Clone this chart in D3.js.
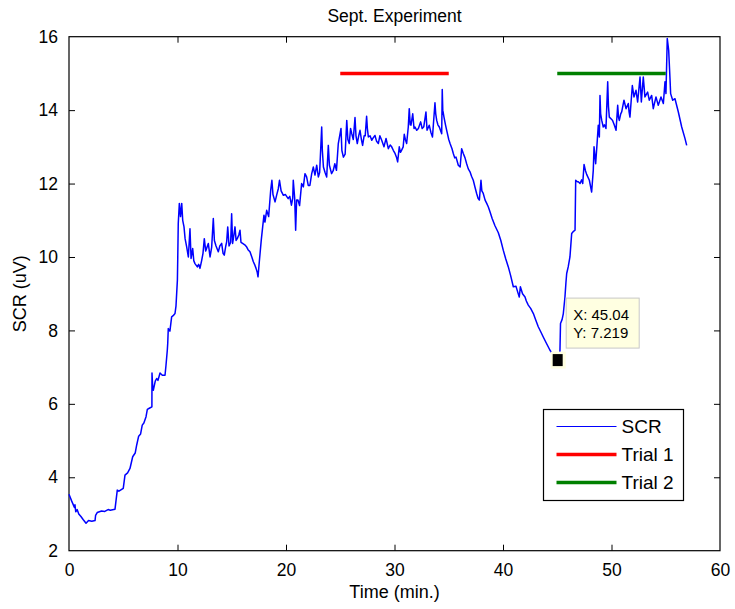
<!DOCTYPE html>
<html>
<head>
<meta charset="utf-8">
<script src="https://cdn.jsdelivr.net/npm/d3@7"></script>
<style>
  body { margin: 0; background: #fff; }
  text { font-family: 'Liberation Sans', Arial, Helvetica, sans-serif; }
</style>
</head>
<body>
<div id="chart"></div>
<script>
// data -------------------------------------------------------------
const timeMin = [
  0.0, 0.25, 0.5, 0.55, 0.62, 0.75, 0.9, 1.1, 1.3, 1.57, 1.8, 2.1, 2.4, 2.45, 2.6, 3.0, 3.3, 3.6, 3.8, 4.24,
  4.45, 4.6, 5.0, 5.16, 5.4, 5.62, 5.87, 6.1, 6.24, 6.42, 6.6, 6.75, 6.9, 7.1, 7.22, 7.4, 7.64, 7.65, 7.72, 7.77,
  7.95, 8.08, 8.2, 8.39, 8.6, 8.85, 8.94, 9.06, 9.1, 9.15, 9.3, 9.46, 9.6, 9.77, 9.86, 9.99, 10.02, 10.07, 10.17, 10.28,
  10.39, 10.48, 10.6, 10.7, 10.85, 11.0, 11.15, 11.25, 11.4, 11.5, 11.61, 11.83, 11.95, 12.07, 12.23, 12.35, 12.47, 12.6, 12.84, 13.0,
  13.15, 13.3, 13.4, 13.55, 13.76, 13.9, 14.07, 14.2, 14.31, 14.45, 14.53, 14.63, 14.75, 14.9, 14.99, 15.08, 15.2, 15.3, 15.4, 15.51,
  15.65, 15.76, 15.85, 16.0, 16.2, 16.38, 16.5, 16.68, 16.85, 16.99, 17.1, 17.24, 17.35, 17.42, 17.54, 17.72, 17.85, 17.97, 18.06, 18.22,
  18.4, 18.59, 18.7, 18.8, 18.99, 19.15, 19.29, 19.4, 19.55, 19.76, 19.95, 20.2, 20.35, 20.5, 20.62, 20.67, 20.8, 20.89, 20.98, 21.1,
  21.25, 21.44, 21.6, 21.75, 21.9, 22.05, 22.2, 22.37, 22.52, 22.67, 22.83, 22.98, 23.1, 23.29, 23.35, 23.45, 23.6, 23.75, 23.9, 24.0,
  24.2, 24.35, 24.5, 24.65, 24.82, 25.07, 25.15, 25.29, 25.45, 25.6, 25.7, 25.83, 25.95, 26.06, 26.2, 26.36, 26.45, 26.57, 26.7, 26.82,
  26.95, 27.06, 27.2, 27.3, 27.43, 27.5, 27.59, 27.75, 27.9, 28.05, 28.2, 28.35, 28.51, 28.65, 28.82, 29.03, 29.22, 29.43, 29.6, 29.74,
  29.9, 30.05, 30.2, 30.29, 30.44, 30.55, 30.66, 30.8, 30.9, 31.0, 31.12, 31.27, 31.36, 31.45, 31.52, 31.68, 31.8, 31.89, 32.05, 32.2,
  32.41, 32.55, 32.7, 32.9, 33.0, 33.2, 33.35, 33.5, 33.73, 33.8, 33.89, 34.0, 34.13, 34.35, 34.4, 34.45, 34.56, 34.7, 34.81, 35.0,
  35.12, 35.3, 35.42, 35.55, 35.67, 35.88, 36.05, 36.19, 36.34, 36.5, 36.65, 36.8, 36.96, 37.1, 37.26, 37.42, 37.57, 37.7, 37.82, 37.97,
  38.05, 38.18, 38.35, 38.5, 38.65, 38.8, 39.0, 39.26, 39.57, 39.8, 40.03, 40.25, 40.49, 40.7, 40.95, 41.2, 41.35, 41.5, 41.6, 41.8,
  42.03, 42.15, 42.33, 42.55, 42.8, 43.0, 43.25, 43.5, 43.71, 44.0, 44.33, 44.7, 45.04, 45.2, 45.25, 45.3, 45.45, 45.56, 45.71, 45.8,
  45.87, 46.01, 46.17, 46.33, 46.5, 46.64, 46.7, 46.85, 46.94, 47.1, 47.25, 47.35, 47.47, 47.6, 47.71, 47.96, 48.17, 48.32, 48.39, 48.54,
  48.69, 48.78, 48.88, 48.94, 49.0, 49.1, 49.24, 49.35, 49.49, 49.65, 49.72, 49.8, 50.0, 50.1, 50.25, 50.42, 50.57, 50.65, 50.72, 50.85,
  50.94, 51.15, 51.34, 51.55, 51.62, 51.7, 51.92, 52.07, 52.26, 52.41, 52.63, 52.75, 52.93, 53.08, 53.33, 53.48, 53.7, 53.85, 54.1, 54.31,
  54.56, 54.78, 54.93, 55.02, 55.14, 55.27, 55.4, 55.45, 55.64, 55.85, 56.16, 56.47, 56.77, 56.93
];
const scrValues = [
  3.54, 3.35, 3.18, 3.25, 3.06, 3.12, 3.0, 2.93, 2.85, 2.75, 2.82, 2.80, 2.82, 2.96, 3.04, 3.08, 3.07, 3.12, 3.10, 3.13,
  3.65, 3.62, 3.70, 4.06, 4.12, 4.24, 4.56, 4.66, 4.88, 5.12, 5.18, 5.42, 5.48, 5.65, 5.85, 5.88, 5.92, 6.84, 6.40, 6.37,
  6.62, 6.69, 6.64, 6.84, 6.78, 6.78, 7.05, 7.46, 7.65, 8.05, 7.98, 8.37, 8.40, 8.46, 8.66, 9.37, 9.91, 10.91, 11.46, 11.1,
  11.46, 11.0, 10.82, 10.5, 10.27, 10.0, 10.77, 9.96, 10.23, 9.9, 9.82, 9.73, 9.80, 9.69, 9.91, 10.1, 10.5, 10.16, 10.37, 10.0,
  10.27, 11.05, 10.45, 10.3, 10.14, 10.3, 10.37, 10.1, 10.05, 10.3, 10.41, 10.82, 10.3, 10.4, 11.18, 10.37, 10.6, 10.82, 10.45, 10.5,
  10.6, 10.73, 10.4, 10.37, 10.33, 10.27, 10.2, 10.14, 10.0, 9.87, 9.8, 9.69, 9.58, 9.46, 9.87, 10.46, 10.82, 11.14, 10.95, 11.27,
  11.1, 11.82, 12.09, 11.7, 11.5, 11.7, 11.86, 12.09, 11.8, 11.68, 11.7, 11.59, 11.65, 11.41, 11.6, 12.09, 11.6, 10.73, 11.55, 11.55,
  11.4, 12.0, 11.91, 12.27, 12.18, 11.95, 11.95, 12.27, 12.45, 12.23, 12.5, 12.18, 12.3, 13.54, 12.9, 12.45, 12.3, 12.18, 13.04, 12.5,
  12.27, 12.35, 12.54, 12.36, 13.09, 13.5, 12.9, 12.72, 12.8, 13.72, 13.2, 13.09, 13.5, 13.36, 13.2, 13.8, 13.3, 13.09, 13.3, 13.45,
  13.2, 13.04, 13.3, 13.3, 13.83, 13.5, 13.27, 13.3, 13.18, 13.25, 13.31, 13.15, 13.09, 13.3, 13.18, 13.0, 13.23, 12.95, 13.05, 13.0,
  12.9, 12.82, 12.7, 12.59, 13.0, 12.85, 12.91, 13.0, 13.34, 13.2, 13.09, 13.54, 14.04, 13.6, 13.59, 13.9, 13.5, 13.54, 13.45, 13.5,
  13.68, 13.5, 13.55, 13.95, 13.45, 13.59, 13.4, 13.27, 14.2, 13.9, 13.72, 13.6, 13.54, 13.36, 14.56, 14.0, 13.81, 13.6, 13.45, 13.2,
  13.09, 12.95, 12.82, 12.7, 12.72, 12.5, 12.45, 12.95, 12.82, 12.7, 12.54, 12.4, 12.32, 12.2, 12.09, 11.9, 11.73, 11.6, 11.55, 12.09,
  11.8, 11.73, 11.55, 11.46, 11.36, 11.23, 11.05, 10.85, 10.66, 10.45, 10.18, 9.95, 9.73, 9.5, 9.19, 9.2, 9.05, 8.91, 9.19, 9.0,
  8.91, 8.8, 8.69, 8.6, 8.46, 8.3, 8.1, 7.95, 7.82, 7.65, 7.46, 7.3, 7.219, 7.25, 7.46, 8.19, 8.3, 8.46, 8.91, 9.3,
  9.55, 9.73, 10.0, 10.64, 10.7, 10.73, 12.09, 12.05, 12.05, 12.0, 12.1, 12.0, 12.52, 12.35, 12.25, 12.09, 11.77, 12.36, 13.0, 12.54,
  13.18, 13.59, 13.27, 14.4, 13.9, 13.72, 13.54, 13.6, 13.5, 14.77, 14.1, 13.81, 13.75, 13.72, 13.6, 13.45, 14.13, 13.8, 13.72, 13.9,
  13.95, 14.27, 14.04, 14.18, 13.95, 13.81, 14.67, 14.36, 14.54, 14.22, 14.9, 14.22, 14.9, 14.36, 14.49, 14.27, 14.4, 14.04, 14.36, 14.13,
  14.36, 14.18, 14.77, 14.45, 15.95, 15.63, 14.8, 14.45, 14.27, 14.31, 13.95, 13.54, 13.23, 13.04
];
const trialNames = ['Trial 1', 'Trial 2'];
const trialStart = [25, 45];
const trialEnd = [35, 55];
const trialLevel = [15, 15];
const trialColors = ['#ff0000', '#008000'];
const xTicks = [0, 10, 20, 30, 40, 50, 60];
const yTicks = [2, 4, 6, 8, 10, 12, 14, 16];
const tipX = 45.04;
const tipY = 7.219;

// layout -----------------------------------------------------------
const width = 735;
const height = 609;
const margin = {top: 36.7, right: 15, bottom: 58.3, left: 69};
const plotW = width - margin.left - margin.right;
const plotH = height - margin.top - margin.bottom;

const svg = d3.select('#chart').append('svg')
  .attr('width', width)
  .attr('height', height);

const x = d3.scaleLinear().domain([0, 60]).range([0, plotW]);
const y = d3.scaleLinear().domain([2, 16]).range([plotH, 0]);

const g = svg.append('g')
  .attr('transform', `translate(${margin.left},${margin.top})`);

// axes (ticks inside, box all round) -------------------------------
const tickLen = 6;
const axisStyle = sel => {
  sel.select('.domain').remove();
  sel.selectAll('.tick line').attr('stroke', '#000');
  sel.selectAll('.tick text')
    .attr('fill', '#000')
    .attr('font-size', '17.5px')
    .style('font-family', "'Liberation Sans', Arial, sans-serif");
};
g.append('g')
  .attr('transform', `translate(0,${plotH})`)
  .call(d3.axisBottom(x).tickValues(xTicks).tickSizeInner(-tickLen).tickSizeOuter(0).tickPadding(13))
  .call(axisStyle);
g.append('g')
  .call(d3.axisTop(x).tickValues(xTicks).tickSizeInner(-tickLen).tickSizeOuter(0).tickFormat(''))
  .call(axisStyle);
g.append('g')
  .call(d3.axisLeft(y).tickValues(yTicks).tickSizeInner(-tickLen).tickSizeOuter(0).tickPadding(11))
  .call(axisStyle);
g.append('g')
  .attr('transform', `translate(${plotW},0)`)
  .call(d3.axisRight(y).tickValues(yTicks).tickSizeInner(-tickLen).tickSizeOuter(0).tickFormat(''))
  .call(axisStyle);
// hide ticks at the corners
g.selectAll('.tick').filter(d => d === 0 || d === 60 || d === 2 || d === 16).select('line').remove();

g.append('rect')
  .attr('width', plotW)
  .attr('height', plotH)
  .attr('fill', 'none')
  .attr('stroke', '#000')
  .attr('stroke-width', 1.2);

// SCR line ---------------------------------------------------------
const points = timeMin.map((t, i) => [t, scrValues[i]]);
const line = d3.line()
  .x(d => x(d[0]))
  .y(d => y(d[1]));
g.append('path')
  .datum(points)
  .attr('d', line)
  .attr('fill', 'none')
  .attr('stroke', '#0000ff')
  .attr('stroke-width', 1.5)
  .attr('stroke-linejoin', 'round');

// trial bars -------------------------------------------------------
g.selectAll('.trial')
  .data(trialNames)
  .enter()
  .append('line')
  .attr('class', 'trial')
  .attr('x1', (d, i) => x(trialStart[i]))
  .attr('x2', (d, i) => x(trialEnd[i]))
  .attr('y1', (d, i) => y(trialLevel[i]))
  .attr('y2', (d, i) => y(trialLevel[i]))
  .attr('stroke', (d, i) => trialColors[i])
  .attr('stroke-width', 3.5);

// data tip ---------------------------------------------------------
const tx = x(tipX);
const ty = y(tipY);
g.append('rect')
  .attr('x', tx + 8.5)
  .attr('y', ty - 61)
  .attr('width', 73)
  .attr('height', 50)
  .attr('fill', '#ffffe1')
  .attr('stroke', '#c8c8c8')
  .attr('stroke-width', 1);
g.append('text')
  .attr('x', tx + 15.5)
  .attr('y', ty - 39.5)
  .attr('font-size', '15px')
  .text('X: ' + tipX.toFixed(2));
g.append('text')
  .attr('x', tx + 15.5)
  .attr('y', ty - 21)
  .attr('font-size', '15px')
  .text('Y: ' + tipY);
g.append('rect')
  .attr('x', tx - 7)
  .attr('y', ty - 7.5)
  .attr('width', 15)
  .attr('height', 17)
  .attr('fill', '#ffffe1');
g.append('rect')
  .attr('x', tx - 5)
  .attr('y', ty - 5)
  .attr('width', 10)
  .attr('height', 12)
  .attr('fill', '#000');

// legend -----------------------------------------------------------
const legend = svg.append('g').attr('transform', 'translate(543.5,409.5)');
legend.append('rect')
  .attr('width', 140)
  .attr('height', 91)
  .attr('fill', '#fff')
  .attr('stroke', '#000')
  .attr('stroke-width', 1.2);
const legendItems = ['SCR'].concat(trialNames);
const legendColors = ['#0000ff'].concat(trialColors);
const legendWidths = [1, 3.5, 3.5];
const rows = legend.selectAll('.row')
  .data(legendItems)
  .enter()
  .append('g')
  .attr('class', 'row')
  .attr('transform', (d, i) => `translate(0,${17 + i * 28})`);
rows.append('line')
  .attr('x1', 13)
  .attr('x2', 73)
  .attr('stroke', (d, i) => legendColors[i])
  .attr('stroke-width', (d, i) => legendWidths[i]);
rows.append('text')
  .attr('x', 78)
  .attr('dy', '0.35em')
  .attr('font-size', '19px')
  .text(d => d);

// titles -----------------------------------------------------------
svg.append('text')
  .attr('x', margin.left + plotW / 2)
  .attr('y', 22)
  .attr('text-anchor', 'middle')
  .attr('font-size', '17.5px')
  .text('Sept. Experiment');
svg.append('text')
  .attr('x', margin.left + plotW / 2)
  .attr('y', 598)
  .attr('text-anchor', 'middle')
  .attr('font-size', '18px')
  .text('Time (min.)');
svg.append('text')
  .attr('transform', `translate(26,${margin.top + plotH / 2}) rotate(-90)`)
  .attr('text-anchor', 'middle')
  .attr('font-size', '18px')
  .text('SCR (uV)');
</script>
</body>
</html>
